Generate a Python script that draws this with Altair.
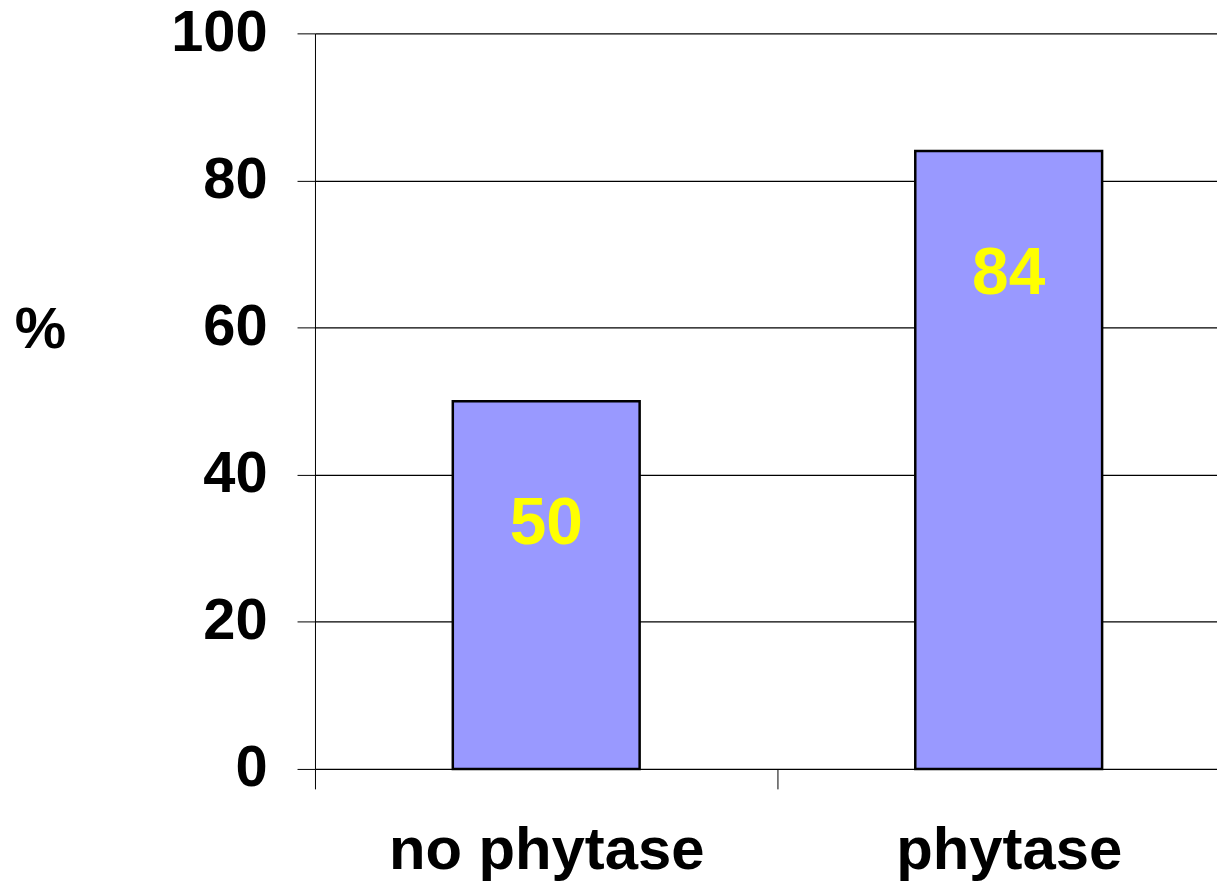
import altair as alt
import pandas as pd

categories = ["no phytase", "phytase"]
values = [50, 84]
y_ticks = [0, 20, 40, 60, 80, 100]

df = pd.DataFrame({"group": categories, "pct": values})

FONT = "Liberation Sans"

x_enc = alt.X(
    "group:N",
    sort=categories,
    scale=alt.Scale(range=[0, 928], paddingInner=0.596, paddingOuter=0.298, round=False),
    axis=alt.Axis(
        title=None,
        domain=False,
        grid=False,
        bandPosition=0,
        tickOffset=-138,
        labelOffset=138,
        ticks=True,
        tickSize=20,
        tickColor="#000000",
        tickWidth=1,
        labelFont=FONT,
        labelFontWeight="bold",
        labelFontSize=60,
        labelColor="#000000",
        labelAngle=0,
        labelLimit=2000,
        labelBaseline="alphabetic",
        labelPadding=80,
    ),
)

y_enc = alt.Y(
    "pct:Q",
    scale=alt.Scale(domain=[0, 100], nice=False),
    axis=alt.Axis(
        values=y_ticks,
        title="%",
        titleAngle=0,
        titleFont=FONT,
        titleFontWeight="bold",
        titleFontSize=58,
        titleColor="#000000",
        titleAlign="center",
        titleBaseline="middle",
        titleX=-276,
        titleY=298,
        domain=True,
        domainColor="#000000",
        domainWidth=1,
        grid=True,
        gridColor="#000000",
        gridWidth=1.2,
        gridOpacity=1,
        ticks=True,
        tickSize=18,
        tickColor="#000000",
        tickWidth=1,
        labelFont=FONT,
        labelFontWeight="bold",
        labelFontSize=58,
        labelColor="#000000",
        labelPadding=30,
        labelBaseline="middle",
    ),
)

bars = alt.Chart(df).mark_bar(
    color="#9999FF", stroke="#000000", strokeWidth=2.5
).encode(x=x_enc, y=y_enc)

labels = alt.Chart(df).mark_text(
    font=FONT,
    fontWeight="bold",
    fontSize=66,
    color="#FFFF00",
    baseline="alphabetic",
    align="center",
    dy=143,
).encode(
    x=alt.X("group:N", sort=categories),
    y=alt.Y("pct:Q"),
    text=alt.Text("pct:Q"),
)

chart = (
    alt.layer(bars, labels)
    .properties(
        width=905,
        height=738,
        autosize=alt.AutoSizeParams(type="none"),
        padding={"left": 308, "top": 24, "right": 0, "bottom": 112},
        background="#FFFFFF",
    )
    .configure_view(stroke=None)
)

chart.save("out.html", embed_options={"renderer": "svg", "actions": False})
